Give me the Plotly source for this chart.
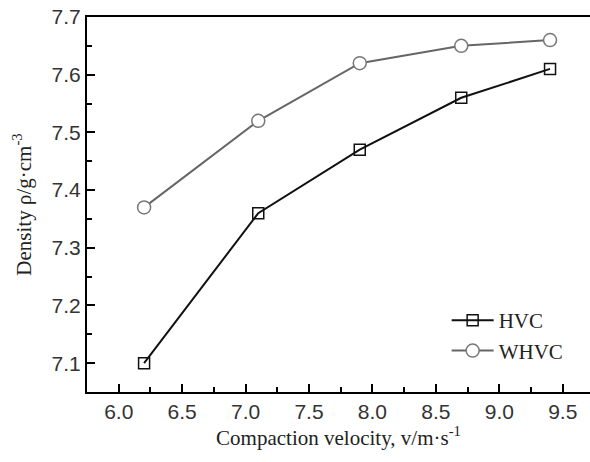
import plotly.graph_objects as go

velocity = [6.2, 7.1, 7.9, 8.7, 9.4]
hvc = [7.10, 7.36, 7.47, 7.56, 7.61]
whvc = [7.37, 7.52, 7.62, 7.65, 7.66]

fig = go.Figure()
fig.add_trace(go.Scatter(x=velocity, y=hvc, name="HVC", mode="lines+markers",
                         line=dict(color="#111111", width=2),
                         marker=dict(symbol="square-open", size=11, color="#111111",
                                     line=dict(width=1.5))))
fig.add_trace(go.Scatter(x=velocity, y=whvc, name="WHVC", mode="lines+markers",
                         line=dict(color="#666666", width=2),
                         marker=dict(symbol="circle", size=13, color="white",
                                     line=dict(width=1.5, color="#777777"))))

axis_common = dict(showline=True, linecolor="black", linewidth=2,
                   ticks="inside", ticklen=8, tickwidth=2, tickcolor="black",
                   showgrid=False, zeroline=False, automargin=False,
                   ticklabeloverflow="allow",
                   tickfont=dict(family="Liberation Sans, Arial", size=21, color="#333333"))

fig.update_xaxes(range=[5.75, 9.715], dtick=0.5, tick0=6.0, tickformat=".1f",
                 mirror=True,
                 minor=dict(ticks="inside", ticklen=5, tickwidth=2, tickcolor="black", dtick=0.25, tick0=6.0),
                 title=dict(text="Compaction velocity, v/m·s<sup>-1</sup>",
                            font=dict(family="Liberation Serif, Times New Roman", size=21, color="#222222"),
                            standoff=8),
                 **axis_common)
fig.update_yaxes(range=[7.05, 7.7], dtick=0.1, tick0=7.1, tickformat=".1f",
                 minor=dict(ticks="inside", ticklen=5, tickwidth=2, tickcolor="black", dtick=0.05, tick0=7.05),
                 title=dict(text="Density ρ/g·cm<sup>-3</sup>",
                            font=dict(family="Liberation Serif, Times New Roman", size=21, color="#222222"),
                            standoff=14),
                 **axis_common)

fig.update_layout(width=590, height=462,
                  margin=dict(l=87, r=0, t=17, b=70),
                  plot_bgcolor="white", paper_bgcolor="white",
                  legend=dict(x=0.715, y=0.245, xanchor="left", yanchor="top",
                              bgcolor="rgba(0,0,0,0)",
                              font=dict(family="Liberation Serif, Times New Roman", size=21, color="#222222"),
                              itemwidth=42, tracegroupgap=0))

fig.write_html("out.html", config={"displayModeBar": False},
               post_script="document.body.style.margin='0';document.body.style.overflow='hidden';")
